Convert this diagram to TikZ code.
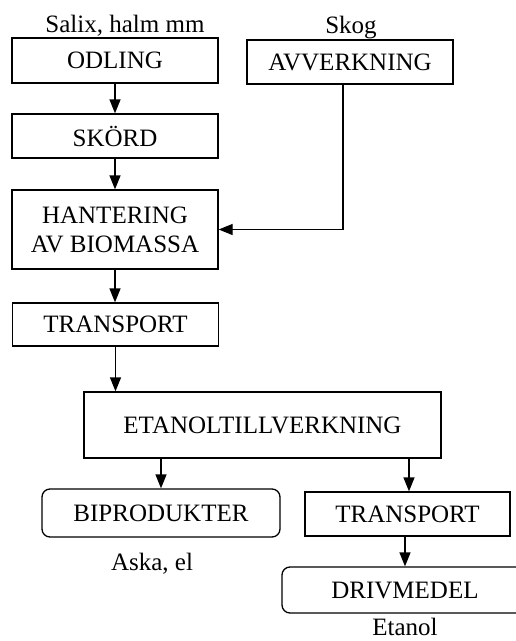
\documentclass[tikz,border=0pt]{standalone}
\usepackage{fontspec}
\setmainfont{Liberation Serif}
\usetikzlibrary{arrows.meta}
\tikzset{
  box/.style={draw, line width=1.3pt, inner sep=0pt, align=center,
    font=\fontsize{25}{29}\selectfont},
  roundbox/.style={box, rounded corners=8pt},
  lbl/.style={inner sep=0pt, anchor=base, font=\fontsize{25}{29}\selectfont},
  flow/.style={line width=1.3pt, -{Triangle[length=14pt,width=11pt]}},
}
\begin{document}
\begin{tikzpicture}[x=1pt, y=-1pt]
\useasboundingbox (0,0) rectangle (515,641);

% left chain: cultivation to transport
\node[box, minimum width=206pt, minimum height=45pt] (odl) at (115,60.5) {ODLING};
\node[box, minimum width=206pt, minimum height=44pt] (sko) at (115,136) {SKÖRD};
\node[box, minimum width=206pt, minimum height=79pt] (han) at (115,229.5) {HANTERING\\AV BIOMASSA};
\node[box, minimum width=206pt, minimum height=43pt] (tr1) at (115.5,324.5) {TRANSPORT};

% forestry branch
\node[box, minimum width=206pt, minimum height=44pt] (avv) at (350,62) {AVVERKNING};

% production and outputs
\node[box, minimum width=357pt, minimum height=66pt] (eta) at (262.5,425) {ETANOLTILLVERKNING};
\node[roundbox, minimum width=238pt, minimum height=48pt] (bip) at (161,513) {BIPRODUKTER};
\node[box, minimum width=205pt, minimum height=44pt] (tr2) at (407.5,514) {TRANSPORT};
\node[roundbox, minimum width=246pt, minimum height=46pt] (dri) at (405,590) {DRIVMEDEL};

% captions
\node[lbl] (salix) at (125,32) {Salix, halm mm};
\node[lbl] (skog) at (351,33) {Skog};
\node[lbl] (aska) at (152,570) {Aska, el};
\node[lbl] (etanol) at (405,635.5) {Etanol};

% connectors
\draw[flow] (odl.south) -- (sko.north);
\draw[flow] (sko.south) -- (han.north);
\draw[flow] ([xshift=-7pt]avv.south) |- (han.east);
\draw[flow] (han.south) -- (han.south |- tr1.north);
\draw[flow] (tr1.south) -- (tr1.south |- eta.north);
\draw[flow] (bip.north |- eta.south) -- (bip.north);
\draw[flow] ([xshift=1.5pt]tr2.north |- eta.south) -- ([xshift=1.5pt]tr2.north);
\draw[flow] (dri.north |- tr2.south) -- (dri.north);
\end{tikzpicture}
\end{document}
